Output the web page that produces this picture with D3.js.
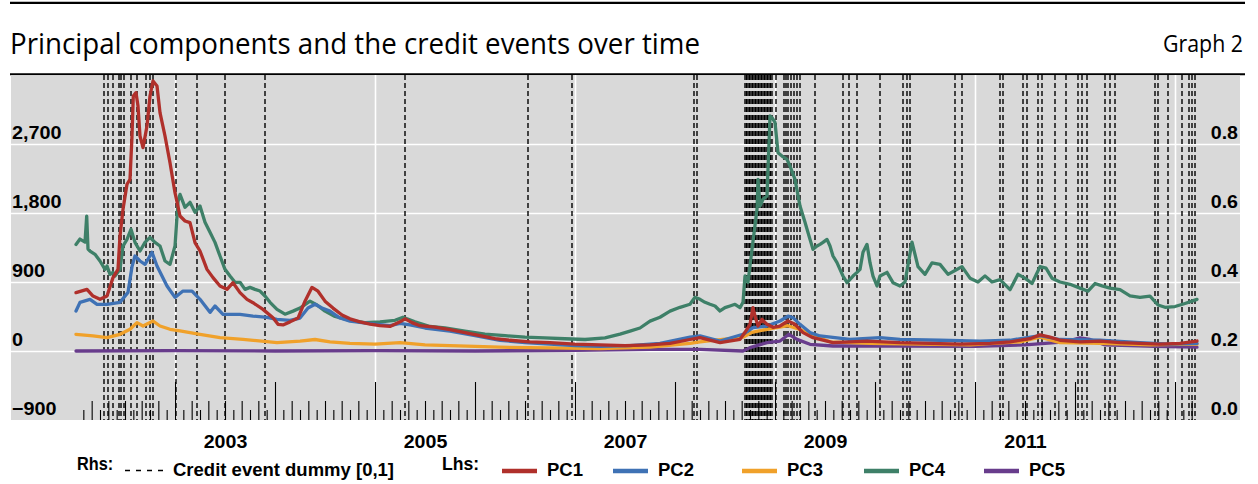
<!DOCTYPE html>
<html><head><meta charset="utf-8">
<script src="https://cdn.jsdelivr.net/npm/d3@7"></script>
<style>body{margin:0;background:#fff}svg{display:block}</style>
</head><body><svg id="c" width="1258" height="484"></svg>
<script>
// ---------- data ----------
const titleText = "Principal components and the credit events over time";
const graphText = "Graph 2";
const leftTicks = [-900, 0, 900, 1800, 2700];
const leftGrid = [0, 900, 1800, 2700];
const rightTicks = [0, 0.2, 0.4, 0.6, 0.8];
const yearLabels = [2003, 2005, 2007, 2009, 2011];
const gridYears = [2003, 2005, 2007, 2009, 2011, 2013];
const seriesNames = ["PC1", "PC2", "PC3", "PC4", "PC5"];
const seriesColors = ["#b0302b", "#3f72b5", "#f0a12a", "#3e8068", "#683c8c"];
const dummyName = "Credit event dummy [0,1]";

// [decimal year, value]
const pc1 = [[2002.01,761],[2002.12,804],[2002.18,717],[2002.25,674],[2002.32,717],[2002.38,957],[2002.43,1065],[2002.45,1500],[2002.48,1848],[2002.52,2175],[2002.55,2239],[2002.57,2804],[2002.583,3326],[2002.61,3370],[2002.63,3195],[2002.65,2804],[2002.68,2652],[2002.72,2935],[2002.75,3326],[2002.78,3522],[2002.82,3457],[2002.85,3109],[2002.90,2804],[2002.95,2456],[2003.00,2065],[2003.05,1761],[2003.10,1696],[2003.15,1674],[2003.20,1413],[2003.25,1304],[2003.32,1065],[2003.38,957],[2003.45,848],[2003.52,804],[2003.58,891],[2003.65,761],[2003.72,674],[2003.78,630],[2003.88,543],[2003.98,435],[2004.03,348],[2004.08,340],[2004.15,380],[2004.23,430],[2004.30,650],[2004.37,830],[2004.43,780],[2004.50,650],[2004.58,560],[2004.67,470],[2004.75,420],[2004.85,380],[2004.95,350],[2005.05,330],[2005.15,320],[2005.25,380],[2005.30,420],[2005.37,370],[2005.45,330],[2005.60,310],[2005.75,280],[2005.90,240],[2006.05,200],[2006.20,160],[2006.35,140],[2006.55,120],[2006.75,110],[2007.00,90],[2007.25,80],[2007.50,70],[2007.75,80],[2007.95,100],[2008.15,150],[2008.25,174],[2008.45,109],[2008.65,152],[2008.70,244],[2008.75,348],[2008.78,566],[2008.80,456],[2008.83,326],[2008.87,413],[2008.92,348],[2008.98,309],[2009.05,326],[2009.13,391],[2009.20,348],[2009.28,240],[2009.38,174],[2009.58,109],[2009.75,120],[2009.92,130],[2010.25,109],[2010.55,100],[2010.85,90],[2011.15,100],[2011.35,120],[2011.55,160],[2011.65,210],[2011.75,180],[2011.85,140],[2012.05,120],[2012.25,130],[2012.45,110],[2012.65,100],[2012.85,90],[2013.05,100],[2013.22,130]];
const pc2 = [[2002.01,522],[2002.05,635],[2002.15,674],[2002.22,609],[2002.32,609],[2002.45,635],[2002.53,765],[2002.57,1100],[2002.60,1239],[2002.65,1174],[2002.70,1130],[2002.77,1287],[2002.82,1109],[2002.92,848],[2003.00,700],[2003.08,782],[2003.17,782],[2003.25,674],[2003.35,504],[2003.40,587],[2003.48,478],[2003.65,478],[2003.78,456],[2003.92,439],[2004.02,413],[2004.15,400],[2004.25,430],[2004.33,560],[2004.40,610],[2004.47,560],[2004.55,520],[2004.65,430],[2004.75,390],[2004.87,370],[2005.00,350],[2005.15,330],[2005.25,360],[2005.35,340],[2005.50,300],[2005.75,260],[2006.00,200],[2006.25,140],[2006.50,110],[2006.75,90],[2007.00,70],[2007.25,60],[2007.55,70],[2007.85,100],[2008.15,180],[2008.25,196],[2008.45,130],[2008.68,218],[2008.78,305],[2008.92,326],[2009.05,391],[2009.13,456],[2009.18,435],[2009.25,348],[2009.35,240],[2009.45,196],[2009.75,152],[2010.05,174],[2010.25,152],[2010.65,140],[2011.05,130],[2011.35,140],[2011.65,200],[2011.85,150],[2012.25,140],[2012.65,110],[2012.95,90],[2013.22,100]];
const pc3 = [[2002.01,218],[2002.18,196],[2002.32,174],[2002.45,218],[2002.55,283],[2002.62,370],[2002.68,326],[2002.78,391],[2002.85,326],[2002.95,283],[2003.05,261],[2003.25,218],[2003.45,174],[2003.68,152],[2004.02,109],[2004.25,130],[2004.40,150],[2004.55,120],[2004.75,100],[2005.00,90],[2005.25,110],[2005.50,80],[2005.75,70],[2006.25,50],[2006.75,40],[2007.25,30],[2007.75,50],[2008.15,100],[2008.25,120],[2008.68,180],[2008.77,244],[2008.92,283],[2009.13,330],[2009.25,280],[2009.35,218],[2009.55,120],[2009.95,100],[2010.45,90],[2010.95,80],[2011.45,120],[2011.65,180],[2011.85,110],[2012.25,100],[2012.75,80],[2013.22,90]];
const pc4 = [[2002.01,1390],[2002.05,1460],[2002.10,1420],[2002.117,1760],[2002.13,1330],[2002.15,1304],[2002.20,1261],[2002.25,1174],[2002.30,1065],[2002.32,1109],[2002.35,1000],[2002.38,1026],[2002.40,978],[2002.45,1065],[2002.48,1369],[2002.52,1456],[2002.56,1587],[2002.60,1417],[2002.65,1304],[2002.70,1417],[2002.75,1482],[2002.80,1417],[2002.85,1369],[2002.90,1174],[2002.95,1130],[2003.00,1369],[2003.03,1950],[2003.05,2043],[2003.10,1874],[2003.15,1939],[2003.20,1809],[2003.25,1891],[2003.30,1678],[2003.35,1548],[2003.40,1417],[2003.45,1239],[2003.50,1065],[2003.55,978],[2003.60,896],[2003.65,896],[2003.70,804],[2003.75,830],[2003.80,804],[2003.85,782],[2003.90,717],[2003.95,635],[2004.02,543],[2004.10,480],[2004.18,520],[2004.25,560],[2004.35,650],[2004.42,600],[2004.50,520],[2004.60,450],[2004.75,400],[2004.90,370],[2005.05,380],[2005.20,400],[2005.28,440],[2005.40,380],[2005.55,320],[2005.70,300],[2005.90,260],[2006.10,220],[2006.30,200],[2006.50,180],[2006.70,170],[2006.90,160],[2007.10,150],[2007.30,170],[2007.45,220],[2007.55,260],[2007.65,300],[2007.75,390],[2007.85,440],[2007.95,520],[2008.05,570],[2008.15,610],[2008.20,700],[2008.25,674],[2008.30,635],[2008.35,609],[2008.40,587],[2008.45,522],[2008.50,565],[2008.55,587],[2008.60,609],[2008.65,565],[2008.68,635],[2008.70,978],[2008.73,896],[2008.77,1326],[2008.82,1848],[2008.83,2239],[2008.85,1891],[2008.88,1978],[2008.92,2022],[2008.95,3065],[2008.97,3043],[2009.00,2982],[2009.03,2587],[2009.07,2543],[2009.12,2500],[2009.15,2413],[2009.20,2239],[2009.25,1891],[2009.30,1678],[2009.35,1456],[2009.38,1326],[2009.42,1369],[2009.45,1391],[2009.48,1417],[2009.52,1456],[2009.55,1369],[2009.58,1239],[2009.62,1152],[2009.65,1065],[2009.68,978],[2009.72,891],[2009.75,935],[2009.78,978],[2009.82,1026],[2009.85,1065],[2009.88,1287],[2009.92,1391],[2009.95,1152],[2009.98,978],[2010.02,848],[2010.05,978],[2010.12,1026],[2010.18,891],[2010.25,848],[2010.30,900],[2010.37,1420],[2010.43,1100],[2010.50,1000],[2010.57,1150],[2010.65,1130],[2010.73,1000],[2010.80,1050],[2010.87,1100],[2010.95,950],[2011.03,900],[2011.10,980],[2011.17,900],[2011.25,930],[2011.35,800],[2011.43,1000],[2011.50,950],[2011.57,880],[2011.65,1100],[2011.71,1080],[2011.77,950],[2011.85,900],[2011.95,870],[2012.05,820],[2012.13,780],[2012.20,880],[2012.27,850],[2012.35,820],[2012.45,800],[2012.55,720],[2012.65,700],[2012.75,717],[2012.83,600],[2012.90,570],[2013.00,580],[2013.10,620],[2013.17,650],[2013.22,674]];
const pc5 = [[2002.01,0],[2003.0,5],[2004.0,0],[2005.0,5],[2006.0,0],[2007.0,10],[2007.75,20],[2008.25,22],[2008.68,0],[2008.75,44],[2008.92,109],[2009.05,130],[2009.14,218],[2009.22,152],[2009.35,87],[2009.58,65],[2010.25,65],[2011.0,60],[2011.5,80],[2011.9,120],[2012.05,170],[2012.15,150],[2012.3,80],[2012.8,60],[2013.22,50]];
// credit event dates (decimal years)
const events = [2002.29,2002.33,2002.38,2002.44,2002.46,2002.49,2002.56,2002.62,2002.71,2002.75,2002.78,2003.01,2003.22,2003.50,2003.90,2005.30,2006.53,2006.97,2008.19,2008.22,
2008.70,2008.715,2008.73,2008.745,2008.76,2008.775,2008.79,2008.805,2008.82,2008.835,2008.85,2008.865,2008.88,2008.895,2008.91,2008.925,2008.94,2008.955,2008.97,
2009.01,2009.09,2009.11,2009.13,2009.16,2009.19,2009.22,2009.25,2009.40,2009.68,2009.74,2009.82,2010.05,2010.28,2010.32,2010.35,2010.80,2010.87,2011.25,2011.28,2011.48,2011.52,2011.63,2011.67,2011.80,2011.91,2012.03,2012.07,2012.12,2012.30,2012.35,2012.40,2012.80,2012.83,2012.93,2013.07,2013.14,2013.17,2013.20];

const seriesData = [pc1, pc2, pc3, pc4, pc5];

// ---------- layout ----------
const svg = d3.select("#c");
const P = {l: 11, r: 1240, t: 75, b: 420};
const x = d3.scaleLinear().domain([2002, 2013]).range([75, 1175]);
const yL = d3.scaleLinear().domain([-900, 3600]).range([P.b, P.t]);
const yR = d3.scaleLinear().domain([0, 1]).range([P.b, P.t]);
const boldFont = "'Liberation Sans', Arial, Helvetica, sans-serif";
const titleFont = "'Open Sans', 'Noto Sans', sans-serif";
const FS = 18.5;

function widen(sel, f) {
  sel.each(function () {
    const w = this.getComputedTextLength();
    d3.select(this).attr("textLength", w * f).attr("lengthAdjust", "spacingAndGlyphs");
  });
}

// rules
svg.append("line").attr("x1", 10).attr("x2", 1245).attr("y1", 2.8).attr("y2", 2.8)
  .attr("stroke", "#000").attr("stroke-width", 2.3);
svg.append("line").attr("x1", 10).attr("x2", 1245).attr("y1", 74.2).attr("y2", 74.2)
  .attr("stroke", "#000").attr("stroke-width", 2);

// title
const tt = svg.append("text").attr("x", 10).attr("y", 54).text(titleText)
  .attr("font-family", titleFont).attr("font-size", 28.5).attr("fill", "#000");
tt.attr("textLength", 690).attr("lengthAdjust", "spacingAndGlyphs");
const gt = svg.append("text").attr("x", 1243).attr("y", 52).attr("text-anchor", "end").text(graphText)
  .attr("font-family", titleFont).attr("font-size", 23).attr("fill", "#000");
gt.attr("textLength", 80).attr("lengthAdjust", "spacingAndGlyphs");

// plot background
svg.append("rect").attr("x", P.l).attr("y", P.t + 0.2).attr("width", P.r - P.l).attr("height", P.b - P.t - 0.2)
  .attr("fill", "#d9d9d9");

svg.append("clipPath").attr("id", "clip").append("rect")
  .attr("x", P.l).attr("y", P.t).attr("width", P.r - P.l).attr("height", P.b - P.t);

// horizontal grid
const gh = svg.append("g").attr("transform", `translate(${P.l},0)`)
  .call(d3.axisRight(yL).tickValues(leftGrid).tickSize(P.r - P.l).tickFormat(""));
gh.select(".domain").remove();
gh.selectAll("line").attr("stroke", "#fff").attr("stroke-width", 1.6);

// vertical grid
const gv = svg.append("g").attr("transform", `translate(0,${P.b})`)
  .call(d3.axisTop(x).tickValues(gridYears).tickSize(P.b - P.t).tickFormat(""));
gv.select(".domain").remove();
gv.selectAll("line").attr("stroke", "#fff").attr("stroke-width", 1.6);

// monthly ticks
const monthT = [];
for (let yy = 2002; yy <= 2013; yy++) for (let m = 0; m < 12; m++) {
  const t = yy + m / 12;
  if (t > 2002.01 && t < 2013.2) monthT.push({t, m});
}
const tickSets = [
  {vals: monthT.filter(d => d.m % 2 === 1).map(d => d.t), h: 10},
  {vals: monthT.filter(d => d.m % 2 === 0 && d.m !== 0).map(d => d.t), h: 19},
  {vals: monthT.filter(d => d.m === 0).map(d => d.t), h: 38}
];
tickSets.forEach(s => {
  const g = svg.append("g").attr("transform", `translate(0,${P.b})`)
    .call(d3.axisTop(x).tickValues(s.vals).tickSize(s.h).tickFormat(""));
  g.select(".domain").remove();
  g.selectAll("line").attr("stroke", "#000").attr("stroke-width", 1.1);
});

// credit event dummy lines
svg.append("g").attr("clip-path", "url(#clip)").selectAll("line").data(events).join("line")
  .attr("x1", d => x(d)).attr("x2", d => x(d)).attr("y1", yR(1)).attr("y2", yR(0))
  .attr("stroke", "#000").attr("stroke-width", 1.4).attr("stroke-dasharray", "5,3");

// series
const line = d3.line().x(d => x(d[0])).y(d => yL(d[1]));
const gs = svg.append("g").attr("clip-path", "url(#clip)");
[4, 3, 2, 1, 0].forEach(i => {
  gs.append("path").datum(seriesData[i]).attr("d", line)
    .attr("fill", "none").attr("stroke", seriesColors[i]).attr("stroke-width", 3.3)
    .attr("stroke-linejoin", "round").attr("stroke-linecap", "round");
});

// left axis labels
const la = svg.append("g").attr("transform", "translate(12,0)")
  .call(d3.axisRight(yL).tickValues(leftTicks).tickSize(0).tickPadding(0).tickFormat(d3.format(",")));
la.select(".domain").remove();
la.attr("font-family", boldFont).attr("font-size", FS).attr("font-weight", "bold");
la.selectAll("text").attr("dy", null).attr("y", -6).attr("fill", "#000");
widen(la.selectAll("text"), 1.07);

// right axis labels
const ra = svg.append("g").attr("transform", "translate(1238,0)")
  .call(d3.axisLeft(yR).tickValues(rightTicks).tickSize(0).tickPadding(0).tickFormat(d3.format(".1f")));
ra.select(".domain").remove();
ra.attr("font-family", boldFont).attr("font-size", FS).attr("font-weight", "bold");
ra.selectAll("text").attr("dy", null).attr("y", -6).attr("fill", "#000");
widen(ra.selectAll("text"), 1.06);

// bottom year labels
const xa = svg.append("g").attr("transform", `translate(0,${P.b})`)
  .call(d3.axisBottom(x).tickValues(yearLabels.map(d => d + 0.5)).tickSize(0).tickPadding(0)
    .tickFormat(d => String(Math.floor(d))));
xa.select(".domain").remove();
xa.attr("font-family", boldFont).attr("font-size", FS).attr("font-weight", "bold");
xa.selectAll("text").attr("dy", null).attr("y", 28).attr("fill", "#000");
widen(xa.selectAll("text"), 1.06);

// legend
const lg = svg.append("g").attr("font-family", boldFont).attr("font-size", FS).attr("font-weight", "bold").attr("fill", "#000");
const rt = lg.append("text").attr("x", 77).attr("y", 470).text("Rhs:");
widen(rt, 0.88);
lg.append("line").attr("x1", 125).attr("x2", 166).attr("y1", 470.5).attr("y2", 470.5)
  .attr("stroke", "#000").attr("stroke-width", 1.3).attr("stroke-dasharray", "5,6");
lg.append("text").attr("x", 173).attr("y", 475.5).text(dummyName);
const lt = lg.append("text").attr("x", 442).attr("y", 470).text("Lhs:");
widen(lt, 0.95);
const legX = [502, 613, 742, 864, 984];
seriesNames.forEach((n, i) => {
  lg.append("line").attr("x1", legX[i]).attr("x2", legX[i] + 35).attr("y1", 471).attr("y2", 471)
    .attr("stroke", seriesColors[i]).attr("stroke-width", 4.5);
  lg.append("text").attr("x", legX[i] + 45).attr("y", 476).text(n);
});
</script></body></html>
